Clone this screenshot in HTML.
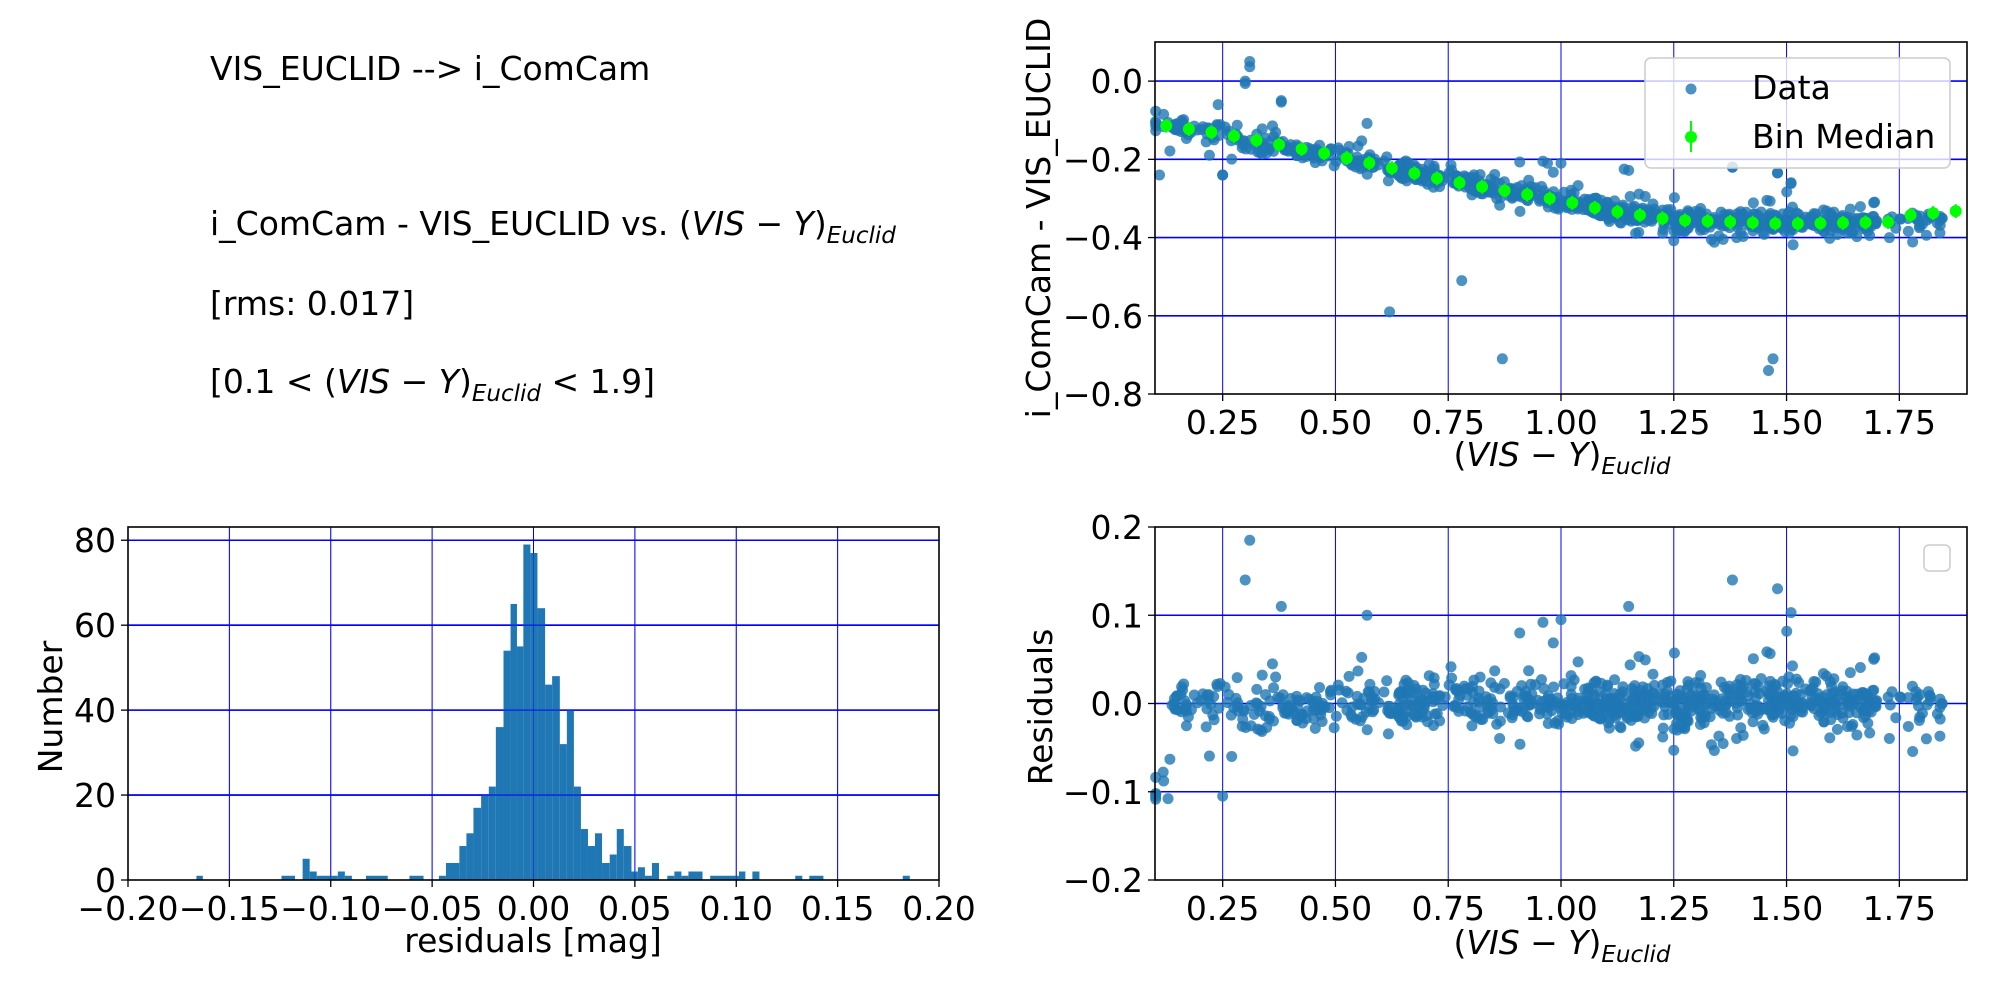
<!DOCTYPE html>
<html><head><meta charset="utf-8"><style>
html,body{margin:0;padding:0;background:#fff;}
svg{display:block;font-family:"DejaVu Sans","Liberation Sans",sans-serif;}
</style></head><body>
<svg id="s" width="2000" height="1000" viewBox="0 0 2000 1000" xmlns="http://www.w3.org/2000/svg">
<rect width="2000" height="1000" fill="#fff"/>
<g font-size="33" fill="#000">
<text x="210" y="80">VIS_EUCLID --&gt; i_ComCam</text>
<text x="210" y="235">i_ComCam - VIS_EUCLID vs. (<tspan font-style="italic">VIS</tspan> − <tspan font-style="italic">Y</tspan>)<tspan font-style="italic" font-size="23" dy="8">Euclid</tspan></text>
<text x="210" y="315">[rms: 0.017]</text>
<text x="210" y="393">[0.1 &lt; (<tspan font-style="italic">VIS</tspan> − <tspan font-style="italic">Y</tspan>)<tspan font-style="italic" font-size="23" dy="8">Euclid</tspan><tspan dy="-8"> &lt; 1.9]</tspan></text>
</g>
<g id="g"></g>
</svg>
<script>
var NS="http://www.w3.org/2000/svg",G=document.getElementById('g');
function el(t,a,p){var e=document.createElementNS(NS,t);for(var k in a)e.setAttribute(k,a[k]);(p||G).appendChild(e);return e;}
function txt(x,y,s,a){var e=el('text',Object.assign({x:x,y:y,'font-size':33},a||{}));e.textContent=s;return e;}
var seed=12345;function rnd(){seed=(seed*1103515245+12345)%2147483648;return seed/2147483648;}
function gauss(){var u=rnd()||1e-9,v=rnd();return Math.sqrt(-2*Math.log(u))*Math.cos(2*Math.PI*v);}
// axes
function axes(L,T,R,B,xt,yt,xf,yf){
 // grid
 xt.forEach(function(v){var X=xf(v);el('line',{x1:X,x2:X,y1:T,y2:B,stroke:'#0000ff','stroke-width':1});});
 yt.forEach(function(v){var Y=yf(v);el('line',{x1:L,x2:R,y1:Y,y2:Y,stroke:'#0000ff','stroke-width':1.6});});
}
function frame(L,T,R,B,xt,yt,xf,yf,xlab,ylab,xlby){
 el('rect',{x:L,y:T,width:R-L,height:B-T,fill:'none',stroke:'#000','stroke-width':1.6});
 xt.forEach(function(v){var X=xf(v);el('line',{x1:X,x2:X,y1:B,y2:B+7,stroke:'#000','stroke-width':1.3});
  txt(X,B+40,v.s,{'text-anchor':'middle'});});
 yt.forEach(function(v){var Y=yf(v);el('line',{x1:L-7,x2:L,y1:Y,y2:Y,stroke:'#000','stroke-width':1.3});
  txt(L-12,Y+12,v.s,{'text-anchor':'end'});});
}
function mk(arr,d){return arr.map(function(v){var o=new Number(v);o.s=(v<0?'−':'')+Math.abs(v).toFixed(d);return o;});}
// ---- top-right
var TL=1155,TT=42,TR=1967,TB=394;
function tx(v){return TL+(v-0.1)/1.8*(TR-TL);}
function ty(v){return TB-(v+0.8)/0.9*(TB-TT);}
var BL=1155,BT=527,BR=1967,BB=880;
function bx(v){return tx(v);}
function by(v){return BB-(v+0.2)/0.4*(BB-BT);}
var xts=mk([0.25,0.5,0.75,1.0,1.25,1.5,1.75],2);
var yts=mk([0.0,-0.2,-0.4,-0.6,-0.8],1);
var yts2=mk([0.2,0.1,0.0,-0.1,-0.2],1);
axes(TL,TT,TR,TB,xts,yts.slice(0,4),tx,ty);
axes(BL,BT,BR,BB,xts,yts2.slice(1,4),bx,by);
// histogram
var HL=128,HT=527,HR=939,HB=880;
function hx(v){return HL+(v+0.2)/0.4*(HR-HL);}
function hy(c){return HB-c*4.247;}
var hxt=mk([-0.2,-0.15,-0.1,-0.05,0,0.05,0.1,0.15,0.2],2);
var hyt=mk([0,20,40,60,80],0);
axes(HL,HT,HR,HB,hxt.slice(1,8),hyt.slice(1),hx,hy);
var bars=[[307,317,1],[440,461,1],[473,484,5],[484,495,2],[495,528,1],[528,539,2],[539,550,1],[572,606,1],[640,662,1],[686,697,1],[697,718,4],[718,729,8],[729,740,11],[740,752,17],[752,764,20],[764,775,22],[775,787,36],[787,798,54],[798,808,65],[808,818,55],[818,829,79],[829,840,77],[840,852,64],[852,863,46],[863,875,48],[875,886,32],[886,897,40],[897,908,22],[908,919,12],[919,930,8],[930,941,11],[941,953,4],[953,964,6],[964,975,12],[975,987,8],[987,997,2],[997,1008,3],[1008,1019,1],[1019,1030,4],[1043,1054,1],[1054,1065,2],[1065,1076,1],[1076,1098,2],[1110,1155,1],[1155,1165,2],[1176,1187,2],[1243,1254,1],[1265,1287,1],[1411,1422,1]];
bars.forEach(function(b){var x1=b[0]/1.563,x2=b[1]/1.563;el('rect',{x:x1,y:hy(b[2]),width:x2-x1,height:b[2]*4.247,fill:'#1f77b4'});});
// redraw grid over bars? matplotlib grid drawn below; but lines visible through -> thin overlay
hxt.slice(1,8).forEach(function(v){var X=hx(v);el('line',{x1:X,x2:X,y1:HT,y2:HB,stroke:'#0000ff','stroke-width':0.8,'stroke-opacity':0.5});});
hyt.slice(1).forEach(function(v){var Y=hy(v);el('line',{x1:HL,x2:HR,y1:Y,y2:Y,stroke:'#0000ff','stroke-width':1.6,'stroke-opacity':0.6});});
frame(HL,HT,HR,HB,hxt,hyt,hx,hy);
// data
var kx=[0.1,0.25,0.5,0.75,1.0,1.1,1.25,1.5,1.75,1.9],ky=[-0.11,-0.135,-0.19,-0.255,-0.305,-0.33,-0.355,-0.365,-0.36,-0.345];
function trend(x){for(var i=0;i<kx.length-1;i++){if(x<=kx[i+1]){var t=(x-kx[i])/(kx[i+1]-kx[i]);return ky[i]+t*(ky[i+1]-ky[i]);}}return ky[ky.length-1];}
var pts=[];
for(var i=0;i<880;i++){
 var x;var r=rnd();
 if(r<0.2)x=0.1+rnd()*0.5;else if(r<0.45)x=0.6+rnd()*0.45;else if(r<0.97)x=1.05+rnd()*0.65;else x=1.7+rnd()*0.15;
 var res=(rnd()<0.12)?gauss()*0.035:gauss()*0.013;
 if(x<0.13){res=-0.1+gauss()*0.012;}
 pts.push([x,res]);
}
[[0.31,0.185],[0.30,0.14],[0.38,0.11],[0.57,0.1],[0.25,-0.105],[0.27,-0.06],[1.38,0.14],[1.48,0.13],[1.15,0.11],[1.51,0.103],[1.0,0.095],[0.96,0.092],[1.25,-0.053],[1.84,0.005],[1.84,-0.037],[1.81,-0.04],[1.77,-0.026],[1.79,0.007]].forEach(function(p){pts.push(p);});
var gt=el('g',{'fill':'#1f77b4','fill-opacity':0.8});
var gb=el('g',{'fill':'#1f77b4','fill-opacity':0.8});
pts.forEach(function(p){
 var yv=(p[0]<0.13)?(-0.11+gauss()*0.015):trend(p[0])+p[1];
 el('circle',{cx:tx(p[0]),cy:ty(yv),r:5.5},gt);
 var ry=by(p[1]);if(ry<BT||ry>BB)return;
 el('circle',{cx:bx(p[0]),cy:ry,r:5.5},gb);
});
[[0.31,0.05],[0.30,0.0],[0.38,-0.05],[0.24,-0.06],[0.62,-0.59],[0.78,-0.51],[0.87,-0.71],[1.46,-0.74],[1.47,-0.71],[1.38,-0.22],[1.48,-0.235],[1.51,-0.26],[0.97,-0.21],[1.14,-0.225],[0.11,-0.24],[0.25,-0.24]].forEach(function(p){el('circle',{cx:tx(p[0]),cy:ty(p[1]),r:5.5},gt);});
// bin medians
for(var xm=0.125;xm<1.9;xm+=0.05){
 var yv=trend(xm)+(xm>1.76?0.015:0);
 el('line',{x1:tx(xm),x2:tx(xm),y1:ty(yv)-7,y2:ty(yv)+7,stroke:'#00ff00','stroke-width':2});
 el('circle',{cx:tx(xm),cy:ty(yv),r:6,fill:'#00ff00'});
}
frame(TL,TT,TR,TB,xts,yts,tx,ty);
frame(BL,BT,BR,BB,xts,yts2,bx,by);
// legend top
el('rect',{x:1645,y:58,width:305,height:110,rx:6,fill:'#fff','fill-opacity':0.8,stroke:'#ccc','stroke-width':1.5});
el('circle',{cx:1691,cy:89,r:5.5,fill:'#1f77b4','fill-opacity':0.8});
el('line',{x1:1691,x2:1691,y1:121,y2:152,stroke:'#00ff00','stroke-width':2});
el('circle',{cx:1691,cy:137,r:6,fill:'#00ff00'});
txt(1752,99,'Data');txt(1752,148,'Bin Median');
el('rect',{x:1924,y:545,width:26,height:26,rx:5,fill:'#fff',stroke:'#ccc','stroke-width':1.5});
// axis labels
function xlab(cx,y){var t=el('text',{x:cx,y:y,'font-size':33,'text-anchor':'middle'});
 t.innerHTML='(<tspan font-style="italic">VIS</tspan> − <tspan font-style="italic">Y</tspan>)<tspan font-style="italic" font-size="23" dy="8">Euclid</tspan>';}
xlab(1562,466);xlab(1562,954);
txt(533,952,'residuals [mag]',{'text-anchor':'middle'});
txt(0,0,'i_ComCam - VIS_EUCLID',{'text-anchor':'middle',transform:'translate(1050,218) rotate(-90)'});
txt(0,0,'Residuals',{'text-anchor':'middle',transform:'translate(1052,707) rotate(-90)'});
txt(0,0,'Number',{'text-anchor':'middle',transform:'translate(62,707) rotate(-90)'});
</script>
</body></html>
